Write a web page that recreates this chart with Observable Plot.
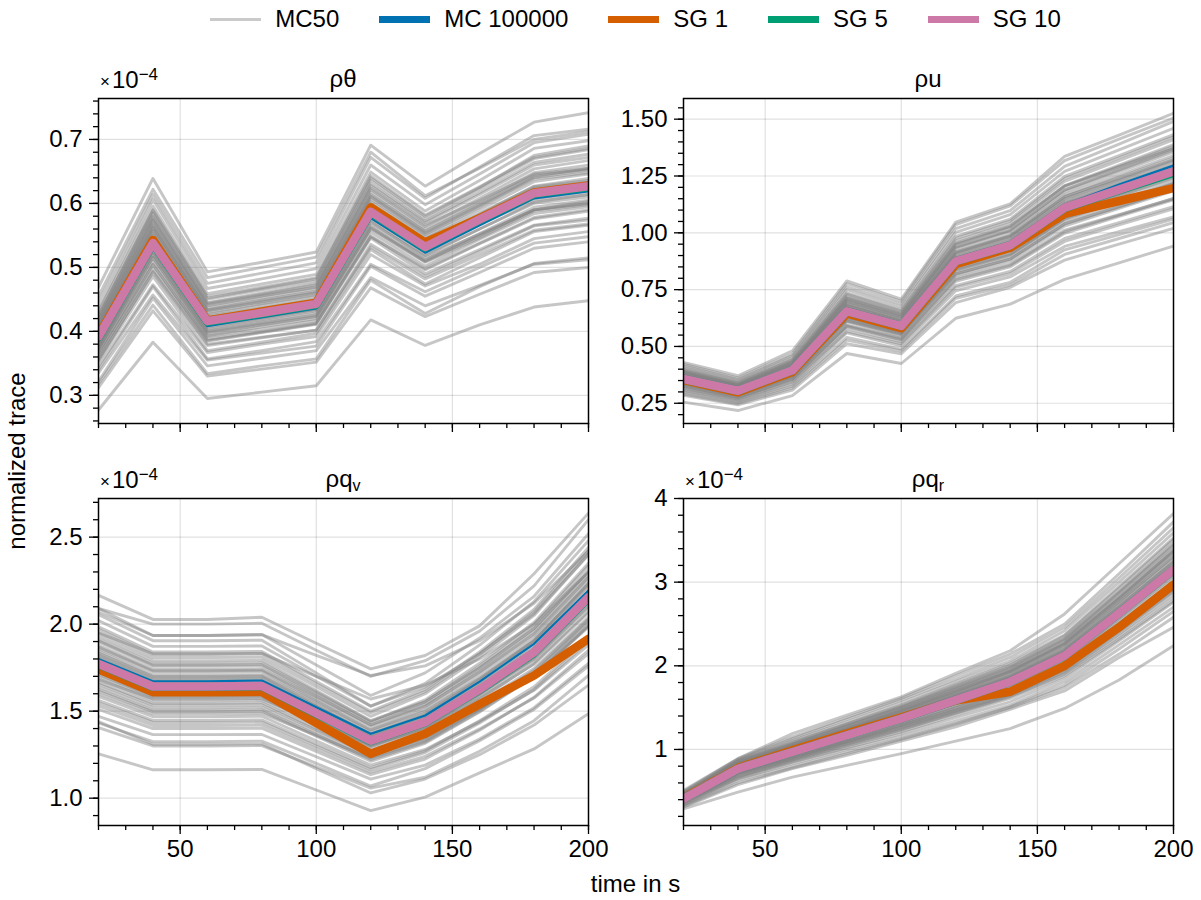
<!DOCTYPE html>
<html><head><meta charset="utf-8">
<script src="https://cdn.jsdelivr.net/npm/d3@7"></script>
<script src="https://cdn.jsdelivr.net/npm/@observablehq/plot@0.6"></script>
<style>
body{margin:0;background:#fff;font-family:"Liberation Sans",Arial,Helvetica,sans-serif;color:#000;}
#root{position:relative;width:1201px;height:900px;overflow:hidden;background:#fff;}
.t{position:absolute;font-size:24px;line-height:1;white-space:nowrap;}
.ctr{transform:translate(-50%,-50%);}
.mult{position:absolute;font-size:24px;line-height:1;white-space:nowrap;transform:translateY(-50%);}
.mult .x{font-size:17px;vertical-align:1px;margin-right:2px;}
.mult sup{font-size:17px;vertical-align:8px;line-height:0;}
.title sub{font-size:16px;vertical-align:-4px;line-height:0;}
#legend{position:absolute;left:98px;width:1075px;top:19px;transform:translateY(-50%);display:flex;justify-content:center;align-items:center;font-size:24px;line-height:1;}
#legend .item{display:flex;align-items:center;margin:0 20px;}
#legend .sw{width:51px;margin-right:14px;}
</style></head><body><div id="root"></div>
<script>
// ---------- data ----------
const times = [20, 40, 60, 80, 100, 120, 140, 160, 180, 200];
const xMajorTicks = [50, 100, 150, 200];
const xMinorTicks = [20, 30, 40, 50, 60, 70, 80, 90, 100, 110, 120, 130, 140, 150, 160, 170, 180, 190, 200];
const seriesNames = ["MC50", "MC 100000", "SG 1", "SG 5", "SG 10"];
const seriesColors = ["#808080", "#0072B2", "#D55E00", "#009E73", "#CC79A7"];

// ρθ (×1e-4)
const rhoThetaMC50 = [
[0.277,0.383,0.295,0.305,0.315,0.418,0.378,0.410,0.438,0.448],
[0.312,0.432,0.330,0.341,0.352,0.468,0.423,0.458,0.492,0.500],
[0.318,0.441,0.334,0.346,0.357,0.480,0.428,0.470,0.506,0.515],
[0.322,0.452,0.346,0.358,0.370,0.484,0.440,0.472,0.505,0.512],
[0.335,0.457,0.355,0.366,0.377,0.502,0.455,0.492,0.530,0.540],
[0.340,0.470,0.357,0.370,0.384,0.505,0.462,0.500,0.538,0.548],
[0.345,0.473,0.367,0.380,0.392,0.520,0.471,0.505,0.545,0.556],
[0.352,0.486,0.370,0.383,0.397,0.528,0.474,0.515,0.556,0.566],
[0.354,0.494,0.380,0.391,0.402,0.536,0.486,0.525,0.565,0.574],
[0.357,0.492,0.378,0.390,0.402,0.532,0.482,0.520,0.558,0.568],
[0.360,0.504,0.388,0.400,0.413,0.549,0.496,0.537,0.576,0.588],
[0.363,0.498,0.385,0.398,0.411,0.546,0.490,0.528,0.566,0.577],
[0.366,0.510,0.392,0.404,0.417,0.555,0.502,0.544,0.584,0.595],
[0.368,0.505,0.386,0.399,0.412,0.548,0.498,0.538,0.578,0.590],
[0.373,0.515,0.393,0.407,0.420,0.560,0.508,0.546,0.588,0.598],
[0.372,0.516,0.396,0.410,0.423,0.561,0.509,0.549,0.590,0.603],
[0.374,0.520,0.398,0.411,0.424,0.563,0.510,0.550,0.590,0.600],
[0.376,0.521,0.400,0.413,0.426,0.566,0.512,0.553,0.594,0.605],
[0.378,0.525,0.404,0.418,0.432,0.570,0.518,0.560,0.602,0.614],
[0.380,0.526,0.401,0.415,0.429,0.572,0.515,0.552,0.590,0.600],
[0.383,0.530,0.406,0.420,0.434,0.575,0.520,0.560,0.600,0.610],
[0.384,0.532,0.409,0.422,0.435,0.578,0.524,0.566,0.608,0.619],
[0.386,0.534,0.412,0.426,0.440,0.582,0.528,0.570,0.612,0.622],
[0.388,0.537,0.410,0.424,0.438,0.583,0.530,0.572,0.614,0.625],
[0.388,0.538,0.413,0.427,0.441,0.590,0.536,0.579,0.622,0.633],
[0.393,0.544,0.418,0.431,0.445,0.585,0.530,0.568,0.605,0.614],
[0.395,0.547,0.420,0.434,0.448,0.595,0.540,0.583,0.627,0.639],
[0.397,0.550,0.422,0.436,0.450,0.596,0.541,0.582,0.624,0.634],
[0.400,0.553,0.424,0.437,0.451,0.600,0.545,0.585,0.626,0.636],
[0.402,0.556,0.427,0.441,0.455,0.603,0.548,0.590,0.634,0.646],
[0.404,0.558,0.429,0.443,0.457,0.607,0.551,0.594,0.640,0.652],
[0.405,0.563,0.433,0.447,0.461,0.612,0.555,0.598,0.642,0.655],
[0.407,0.562,0.432,0.446,0.460,0.610,0.553,0.596,0.638,0.648],
[0.409,0.566,0.434,0.449,0.463,0.614,0.557,0.600,0.644,0.653],
[0.411,0.569,0.437,0.452,0.466,0.618,0.560,0.603,0.648,0.660],
[0.413,0.572,0.440,0.455,0.469,0.622,0.564,0.608,0.654,0.667],
[0.415,0.575,0.442,0.456,0.470,0.624,0.566,0.605,0.646,0.655],
[0.417,0.578,0.444,0.458,0.473,0.628,0.570,0.614,0.660,0.672],
[0.419,0.580,0.445,0.460,0.475,0.631,0.572,0.617,0.664,0.677],
[0.422,0.585,0.450,0.465,0.479,0.636,0.576,0.622,0.670,0.684],
[0.424,0.588,0.452,0.467,0.482,0.640,0.580,0.625,0.675,0.690],
[0.426,0.590,0.455,0.469,0.484,0.643,0.582,0.626,0.672,0.686],
[0.431,0.596,0.459,0.474,0.489,0.649,0.588,0.636,0.686,0.698],
[0.436,0.606,0.467,0.482,0.498,0.660,0.598,0.646,0.695,0.708],
[0.446,0.614,0.475,0.491,0.507,0.672,0.608,0.657,0.706,0.716],
[0.455,0.622,0.484,0.500,0.516,0.680,0.612,0.655,0.700,0.712],
[0.469,0.639,0.493,0.508,0.524,0.691,0.627,0.678,0.727,0.742]
];
const rhoThetaMC100000 = [0.385,0.530,0.408,0.422,0.436,0.577,0.523,0.566,0.608,0.619];
const rhoThetaSG1  = [0.394,0.543,0.417,0.431,0.445,0.594,0.539,0.577,0.617,0.628];
const rhoThetaSG5  = [0.391,0.537,0.415,0.428,0.442,0.586,0.531,0.574,0.615,0.626];
const rhoThetaSG10 = [0.392,0.538,0.416,0.429,0.443,0.587,0.532,0.575,0.616,0.627];
const rhoThetaTicks = [0.3, 0.4, 0.5, 0.6, 0.7];

// ρu
const rhoUMC50 = [
[0.255,0.218,0.284,0.469,0.425,0.624,0.686,0.795,0.868,0.942],
[0.285,0.243,0.308,0.512,0.468,0.693,0.760,0.880,0.950,1.020],
[0.291,0.248,0.318,0.528,0.480,0.712,0.770,0.905,0.975,1.045],
[0.297,0.254,0.326,0.540,0.488,0.722,0.782,0.925,0.992,1.060],
[0.305,0.260,0.334,0.560,0.503,0.745,0.806,0.940,1.005,1.070],
[0.308,0.265,0.343,0.566,0.512,0.760,0.820,0.962,1.035,1.105],
[0.316,0.269,0.347,0.579,0.520,0.768,0.830,0.975,1.045,1.115],
[0.319,0.274,0.355,0.588,0.529,0.786,0.850,0.998,1.072,1.145],
[0.323,0.276,0.357,0.592,0.532,0.794,0.857,1.005,1.078,1.152],
[0.326,0.277,0.360,0.594,0.536,0.800,0.862,1.012,1.080,1.150],
[0.331,0.283,0.366,0.608,0.545,0.812,0.876,1.030,1.108,1.185],
[0.333,0.285,0.369,0.612,0.551,0.818,0.884,1.038,1.114,1.190],
[0.335,0.288,0.372,0.614,0.556,0.820,0.885,1.040,1.115,1.190],
[0.338,0.289,0.373,0.620,0.558,0.828,0.894,1.050,1.126,1.204],
[0.340,0.291,0.376,0.624,0.560,0.835,0.902,1.060,1.138,1.215],
[0.342,0.292,0.378,0.628,0.565,0.840,0.907,1.066,1.145,1.224],
[0.344,0.292,0.380,0.630,0.567,0.842,0.906,1.062,1.140,1.218],
[0.347,0.297,0.382,0.637,0.573,0.850,0.920,1.082,1.162,1.242],
[0.349,0.297,0.385,0.640,0.576,0.862,0.932,1.095,1.175,1.255],
[0.350,0.299,0.387,0.642,0.578,0.858,0.928,1.090,1.170,1.250],
[0.351,0.300,0.388,0.644,0.579,0.856,0.924,1.085,1.160,1.236],
[0.354,0.303,0.392,0.650,0.585,0.869,0.940,1.104,1.185,1.265],
[0.355,0.303,0.393,0.652,0.587,0.870,0.940,1.102,1.180,1.260],
[0.358,0.306,0.396,0.657,0.591,0.873,0.942,1.105,1.182,1.258],
[0.360,0.308,0.398,0.661,0.595,0.884,0.955,1.122,1.205,1.288],
[0.362,0.306,0.398,0.660,0.593,0.880,0.950,1.118,1.196,1.276],
[0.362,0.309,0.400,0.664,0.597,0.886,0.958,1.126,1.208,1.292],
[0.364,0.311,0.403,0.668,0.601,0.892,0.964,1.134,1.216,1.298],
[0.365,0.312,0.402,0.670,0.601,0.890,0.960,1.128,1.205,1.284],
[0.367,0.313,0.404,0.672,0.604,0.896,0.968,1.138,1.220,1.302],
[0.369,0.315,0.408,0.676,0.609,0.904,0.977,1.148,1.232,1.318],
[0.371,0.316,0.409,0.680,0.612,0.908,0.980,1.150,1.232,1.314],
[0.372,0.318,0.410,0.683,0.613,0.912,0.985,1.158,1.245,1.330],
[0.374,0.320,0.414,0.687,0.618,0.918,0.992,1.168,1.254,1.340],
[0.376,0.321,0.416,0.690,0.621,0.916,0.988,1.160,1.240,1.322],
[0.379,0.324,0.420,0.697,0.627,0.931,1.005,1.180,1.268,1.356],
[0.381,0.326,0.422,0.700,0.630,0.935,1.010,1.188,1.276,1.364],
[0.383,0.327,0.424,0.703,0.632,0.938,1.012,1.190,1.280,1.370],
[0.386,0.330,0.428,0.709,0.638,0.948,1.024,1.204,1.292,1.380],
[0.388,0.331,0.430,0.712,0.641,0.950,1.027,1.208,1.298,1.388],
[0.390,0.333,0.432,0.716,0.644,0.955,1.030,1.206,1.290,1.372],
[0.394,0.337,0.436,0.723,0.650,0.965,1.042,1.226,1.318,1.410],
[0.397,0.340,0.440,0.730,0.656,0.975,1.052,1.238,1.330,1.422],
[0.401,0.343,0.444,0.736,0.662,0.984,1.060,1.248,1.340,1.432],
[0.408,0.349,0.452,0.750,0.674,1.002,1.080,1.270,1.365,1.460],
[0.415,0.355,0.460,0.762,0.686,1.018,1.098,1.292,1.390,1.490],
[0.422,0.362,0.468,0.776,0.698,1.036,1.118,1.318,1.412,1.505],
[0.430,0.371,0.481,0.788,0.708,1.047,1.127,1.336,1.430,1.526]
];
const rhoUMC100000 = [0.358,0.306,0.396,0.656,0.591,0.877,0.948,1.122,1.212,1.296];
const rhoUSG1  = [0.352,0.298,0.388,0.645,0.580,0.862,0.934,1.083,1.140,1.197];
const rhoUSG5  = [0.357,0.305,0.395,0.655,0.590,0.875,0.945,1.109,1.187,1.264];
const rhoUSG10 = [0.357,0.305,0.395,0.655,0.590,0.875,0.945,1.110,1.190,1.270];
const rhoUTicks = [0.25, 0.5, 0.75, 1.0, 1.25, 1.5];

// ρq_v (×1e-4)
const rhoQvMC50 = [
[1.255,1.163,1.163,1.165,1.047,0.929,1.006,1.145,1.283,1.485],
[1.405,1.300,1.300,1.302,1.180,1.058,1.120,1.270,1.445,1.705],
[1.440,1.310,1.310,1.312,1.170,1.030,1.110,1.250,1.420,1.650],
[1.432,1.325,1.325,1.328,1.200,1.070,1.170,1.330,1.510,1.760],
[1.470,1.365,1.365,1.366,1.238,1.110,1.190,1.340,1.520,1.775],
[1.510,1.400,1.400,1.402,1.268,1.135,1.225,1.390,1.580,1.850],
[1.530,1.418,1.418,1.420,1.285,1.150,1.240,1.398,1.575,1.830],
[1.548,1.435,1.435,1.437,1.300,1.165,1.262,1.432,1.625,1.900],
[1.562,1.447,1.447,1.450,1.312,1.175,1.272,1.445,1.640,1.920],
[1.585,1.468,1.468,1.471,1.330,1.190,1.280,1.440,1.620,1.880],
[1.600,1.485,1.485,1.487,1.360,1.230,1.330,1.510,1.720,2.010],
[1.615,1.497,1.497,1.500,1.356,1.212,1.315,1.495,1.700,1.990],
[1.625,1.505,1.505,1.508,1.365,1.222,1.322,1.500,1.702,1.992],
[1.640,1.520,1.520,1.522,1.378,1.233,1.335,1.515,1.720,2.020],
[1.655,1.535,1.535,1.537,1.392,1.248,1.350,1.530,1.735,2.030],
[1.665,1.545,1.545,1.548,1.400,1.250,1.345,1.512,1.700,1.985],
[1.680,1.570,1.570,1.572,1.440,1.305,1.410,1.600,1.820,2.140],
[1.685,1.560,1.560,1.562,1.418,1.272,1.380,1.565,1.775,2.075],
[1.700,1.578,1.578,1.580,1.428,1.275,1.372,1.548,1.745,2.040],
[1.710,1.585,1.585,1.588,1.438,1.290,1.395,1.582,1.795,2.100],
[1.720,1.592,1.592,1.595,1.446,1.296,1.405,1.595,1.810,2.120],
[1.738,1.610,1.610,1.612,1.458,1.303,1.400,1.575,1.770,2.065],
[1.745,1.618,1.618,1.620,1.465,1.312,1.418,1.608,1.820,2.130],
[1.755,1.626,1.626,1.628,1.475,1.322,1.432,1.625,1.840,2.160],
[1.760,1.630,1.630,1.632,1.480,1.330,1.420,1.600,1.800,2.100],
[1.768,1.640,1.640,1.642,1.488,1.335,1.442,1.632,1.848,2.165],
[1.775,1.645,1.645,1.647,1.490,1.335,1.445,1.640,1.855,2.180],
[1.790,1.660,1.660,1.662,1.500,1.340,1.440,1.625,1.830,2.130],
[1.800,1.668,1.668,1.670,1.512,1.355,1.465,1.660,1.880,2.205],
[1.808,1.675,1.675,1.678,1.520,1.362,1.475,1.672,1.895,2.225],
[1.818,1.685,1.685,1.688,1.528,1.370,1.482,1.680,1.905,2.235],
[1.825,1.692,1.692,1.695,1.530,1.365,1.470,1.655,1.865,2.180],
[1.835,1.700,1.700,1.703,1.540,1.378,1.490,1.690,1.915,2.250],
[1.845,1.708,1.708,1.710,1.552,1.392,1.510,1.710,1.935,2.270],
[1.860,1.725,1.725,1.728,1.560,1.392,1.500,1.690,1.905,2.230],
[1.868,1.732,1.732,1.735,1.572,1.410,1.525,1.728,1.958,2.290],
[1.878,1.740,1.740,1.742,1.582,1.422,1.540,1.745,1.975,2.310],
[1.898,1.758,1.758,1.760,1.590,1.420,1.530,1.725,1.945,2.270],
[1.905,1.765,1.765,1.768,1.600,1.435,1.552,1.760,1.995,2.335],
[1.915,1.775,1.775,1.778,1.610,1.442,1.565,1.775,2.010,2.350],
[1.932,1.790,1.790,1.792,1.618,1.445,1.555,1.750,1.975,2.300],
[1.950,1.808,1.808,1.810,1.640,1.470,1.600,1.810,2.050,2.400],
[1.950,1.830,1.830,1.832,1.700,1.570,1.650,1.800,2.000,2.300],
[1.970,1.825,1.825,1.828,1.658,1.490,1.612,1.828,2.070,2.420],
[1.985,1.840,1.840,1.843,1.670,1.500,1.625,1.840,2.085,2.440],
[2.020,1.872,1.872,1.875,1.700,1.528,1.660,1.880,2.130,2.480],
[2.055,1.905,1.905,1.908,1.720,1.530,1.640,1.830,2.060,2.400],
[2.070,1.935,1.935,1.940,1.820,1.705,1.760,1.905,2.120,2.420],
[2.090,1.935,1.935,1.940,1.765,1.590,1.720,1.920,2.160,2.520],
[2.090,2.000,2.000,2.005,1.850,1.700,1.790,1.960,2.220,2.600],
[2.165,2.027,2.027,2.040,1.890,1.743,1.820,1.990,2.290,2.638]
];
const rhoQvMC100000 = [1.800,1.672,1.672,1.676,1.523,1.370,1.475,1.670,1.887,2.193];
const rhoQvSG1  = [1.740,1.609,1.609,1.610,1.432,1.255,1.370,1.540,1.705,1.916];
const rhoQvSG5  = [1.770,1.640,1.640,1.643,1.486,1.328,1.435,1.622,1.835,2.150];
const rhoQvSG10 = [1.772,1.642,1.642,1.645,1.488,1.330,1.437,1.625,1.839,2.155];
const rhoQvTicks = [1.0, 1.5, 2.0, 2.5];

// ρq_r (×1e-4)
const rhoQrMC50 = [
[0.29,0.49,0.67,0.81,0.95,1.10,1.25,1.49,1.83,2.24],
[0.31,0.58,0.77,0.93,1.10,1.27,1.48,1.70,2.10,2.46],
[0.32,0.60,0.78,0.95,1.12,1.30,1.50,1.74,2.14,2.58],
[0.33,0.63,0.80,0.97,1.13,1.31,1.51,1.77,2.20,2.65],
[0.34,0.65,0.83,1.00,1.16,1.34,1.53,1.81,2.25,2.70],
[0.35,0.66,0.85,1.02,1.19,1.38,1.57,1.85,2.30,2.76],
[0.36,0.67,0.87,1.05,1.23,1.43,1.63,1.90,2.35,2.82],
[0.36,0.68,0.86,1.04,1.21,1.41,1.61,1.88,2.32,2.78],
[0.37,0.69,0.88,1.06,1.24,1.44,1.64,1.92,2.38,2.86],
[0.37,0.70,0.89,1.08,1.26,1.46,1.66,1.95,2.42,2.90],
[0.38,0.71,0.89,1.07,1.25,1.45,1.65,1.93,2.40,2.89],
[0.38,0.71,0.90,1.09,1.27,1.47,1.67,1.96,2.43,2.92],
[0.38,0.72,0.91,1.09,1.28,1.48,1.69,1.98,2.46,2.95],
[0.39,0.72,0.91,1.10,1.29,1.49,1.70,1.99,2.48,2.97],
[0.39,0.73,0.92,1.10,1.29,1.50,1.71,2.01,2.50,3.00],
[0.39,0.74,0.93,1.12,1.31,1.52,1.74,2.04,2.53,3.04],
[0.40,0.74,0.93,1.12,1.31,1.52,1.73,2.03,2.51,3.01],
[0.40,0.75,0.94,1.14,1.33,1.55,1.76,2.06,2.56,3.07],
[0.40,0.75,0.95,1.14,1.33,1.55,1.77,2.07,2.57,3.09],
[0.40,0.76,0.97,1.17,1.37,1.59,1.80,2.11,2.61,3.13],
[0.41,0.76,0.95,1.15,1.34,1.56,1.78,2.09,2.59,3.10],
[0.41,0.76,0.96,1.16,1.36,1.57,1.79,2.10,2.60,3.12],
[0.41,0.77,0.97,1.17,1.36,1.58,1.80,2.11,2.62,3.15],
[0.42,0.78,0.98,1.18,1.38,1.60,1.82,2.13,2.64,3.16],
[0.42,0.78,0.98,1.18,1.38,1.61,1.83,2.14,2.66,3.19],
[0.42,0.79,0.99,1.19,1.39,1.61,1.84,2.15,2.67,3.19],
[0.42,0.79,0.99,1.19,1.40,1.62,1.85,2.16,2.68,3.21],
[0.43,0.79,1.00,1.21,1.42,1.64,1.87,2.19,2.71,3.25],
[0.43,0.80,1.00,1.20,1.41,1.64,1.86,2.18,2.71,3.24],
[0.43,0.80,1.00,1.21,1.41,1.63,1.86,2.18,2.70,3.24],
[0.43,0.80,1.01,1.22,1.42,1.65,1.88,2.20,2.74,3.28],
[0.44,0.81,1.02,1.23,1.44,1.67,1.90,2.23,2.76,3.31],
[0.44,0.81,1.02,1.23,1.43,1.66,1.89,2.22,2.76,3.30],
[0.44,0.82,1.03,1.24,1.46,1.69,1.93,2.26,2.80,3.36],
[0.44,0.82,1.03,1.24,1.45,1.68,1.92,2.25,2.79,3.34],
[0.45,0.82,1.04,1.25,1.47,1.70,1.94,2.27,2.81,3.37],
[0.45,0.83,1.04,1.25,1.46,1.70,1.93,2.27,2.82,3.38],
[0.45,0.83,1.05,1.26,1.48,1.72,1.95,2.29,2.84,3.40],
[0.46,0.84,1.06,1.28,1.49,1.73,1.97,2.31,2.87,3.43],
[0.46,0.85,1.06,1.28,1.50,1.74,1.98,2.32,2.88,3.45],
[0.46,0.85,1.07,1.29,1.51,1.75,1.99,2.33,2.89,3.47],
[0.47,0.86,1.08,1.30,1.52,1.77,2.01,2.36,2.93,3.51],
[0.47,0.86,1.09,1.31,1.53,1.78,2.03,2.37,2.95,3.53],
[0.48,0.87,1.11,1.33,1.56,1.81,2.06,2.42,3.00,3.59],
[0.49,0.88,1.13,1.36,1.59,1.84,2.10,2.46,3.05,3.65],
[0.50,0.89,1.15,1.38,1.61,1.88,2.14,2.50,3.10,3.72],
[0.51,0.89,1.19,1.41,1.63,1.91,2.18,2.62,3.22,3.82]
];
const rhoQrMC100000 = [0.40,0.76,0.96,1.16,1.36,1.58,1.80,2.12,2.62,3.14];
const rhoQrSG1  = [0.42,0.78,0.99,1.19,1.385,1.585,1.69,2.00,2.46,2.97];
const rhoQrSG5  = [0.41,0.77,0.97,1.17,1.37,1.59,1.81,2.12,2.63,3.15];
const rhoQrSG10 = [0.41,0.77,0.97,1.17,1.37,1.59,1.81,2.12,2.63,3.15];
const rhoQrTicks = [1, 2, 3, 4];

// ---------- layout ----------
const root = document.getElementById("root");
const panels = [
  {mc50: rhoThetaMC50, mc: rhoThetaMC100000, sg1: rhoThetaSG1, sg5: rhoThetaSG5, sg10: rhoThetaSG10,
   ticks: rhoThetaTicks, minor: d3.range(0.26, 0.765, 0.02), domain: [0.256, 0.764], fmt: d3.format(".1f"),
   left: 0, top: 60, fl: 98, fr: 588, ft: 98, fb: 423, xlabels: false, title: "ρθ", mult: true},
  {mc50: rhoUMC50, mc: rhoUMC100000, sg1: rhoUSG1, sg5: rhoUSG5, sg10: rhoUSG10,
   ticks: rhoUTicks, minor: d3.range(0.2, 1.58, 0.05), domain: [0.161, 1.591], fmt: d3.format(".2f"),
   left: 600, top: 60, fl: 683, fr: 1173, ft: 98, fb: 423, xlabels: false, title: "ρu", mult: false},
  {mc50: rhoQvMC50, mc: rhoQvMC100000, sg1: rhoQvSG1, sg5: rhoQvSG5, sg10: rhoQvSG10,
   ticks: rhoQvTicks, minor: d3.range(0.9, 2.71, 0.1), domain: [0.843, 2.722], fmt: d3.format(".1f"),
   left: 0, top: 460, fl: 98, fr: 588, ft: 498, fb: 825, xlabels: true, title: "ρq<sub>v</sub>", mult: true},
  {mc50: rhoQrMC50, mc: rhoQrMC100000, sg1: rhoQrSG1, sg5: rhoQrSG5, sg10: rhoQrSG10,
   ticks: rhoQrTicks, minor: d3.range(0.2, 4.01, 0.2), domain: [0.091, 4.0], fmt: d3.format("d"),
   left: 600, top: 460, fl: 683, fr: 1173, ft: 498, fb: 825, xlabels: true, title: "ρq<sub>r</sub>", mult: true}
];

const asRows = (arr) => arr.map((v, j) => ({t: times[j], v}));

for (const p of panels) {
  const W = 600, H = p.top === 60 ? 400 : 440;
  const gray = p.mc50.flatMap((row, i) => row.map((v, j) => ({t: times[j], v, id: i})));
  const minor = p.minor.map(d => +d.toFixed(3));
  const svg = Plot.plot({
    width: W, height: H,
    marginLeft: p.fl - p.left, marginRight: W - (p.fr - p.left),
    marginTop: p.ft - p.top, marginBottom: H - (p.fb - p.top),
    x: {domain: [20, 200]},
    y: {domain: p.domain},
    style: {fontFamily: "Liberation Sans, Arial, sans-serif", fontSize: "24px", color: "black", background: "transparent", overflow: "visible"},
    marks: [
      Plot.gridX(xMajorTicks.filter(d => d < 200), {stroke: "black", strokeOpacity: 0.12, strokeWidth: 1.2}),
      Plot.gridY(p.ticks, {stroke: "black", strokeOpacity: 0.12, strokeWidth: 1.2}),
      Plot.line(gray, {x: "t", y: "v", z: "id", stroke: seriesColors[0], strokeOpacity: 0.45, strokeWidth: 2.9, clip: true}),
      Plot.line(asRows(p.mc), {x: "t", y: "v", stroke: seriesColors[1], strokeWidth: 2.2, clip: true}),
      Plot.line(asRows(p.sg1), {x: "t", y: "v", stroke: seriesColors[2], strokeWidth: 8.5, clip: true}),
      Plot.line(asRows(p.sg5), {x: "t", y: "v", stroke: seriesColors[3], strokeWidth: 8.5, clip: true}),
      Plot.line(asRows(p.sg10), {x: "t", y: "v", stroke: seriesColors[4], strokeWidth: 8.5, clip: true}),
      Plot.frame({stroke: "black", strokeWidth: 1.5}),
      Plot.axisY(minor, {tickSize: 5, tickFormat: () => "", label: null, strokeWidth: 1.3}),
      Plot.axisY(p.ticks, {tickSize: 9, tickPadding: 7, tickFormat: p.fmt, label: null, fontSize: 24, strokeWidth: 1.3}),
      Plot.axisX(xMinorTicks, {tickSize: 5, tickFormat: () => "", label: null, strokeWidth: 1.3}),
      Plot.axisX(xMajorTicks, {tickSize: 9, tickPadding: 5, tickFormat: p.xlabels ? (d => String(d)) : (() => ""), label: null, fontSize: 24, strokeWidth: 1.3})
    ]
  });
  svg.style.position = "absolute";
  svg.style.left = p.left + "px";
  svg.style.top = p.top + "px";
  root.appendChild(svg);

  const t = document.createElement("div");
  t.className = "t ctr title";
  t.style.left = ((p.fl + p.fr) / 2) + "px";
  t.style.top = (p.ft - 19) + "px";
  t.innerHTML = p.title;
  root.appendChild(t);

  if (p.mult) {
    const m = document.createElement("div");
    m.className = "mult";
    m.style.left = (p.fl + 2) + "px";
    m.style.top = (p.ft - 18) + "px";
    m.innerHTML = '<span class="x">×</span>10<sup>−4</sup>';
    root.appendChild(m);
  }
}

// axis labels
const yl = document.createElement("div");
yl.className = "t";
yl.style.left = "17px"; yl.style.top = "461px";
yl.style.transform = "translate(-50%,-50%) rotate(-90deg)";
yl.textContent = "normalized trace";
root.appendChild(yl);

const xl = document.createElement("div");
xl.className = "t ctr";
xl.style.left = "635.5px"; xl.style.top = "884px";
xl.textContent = "time in s";
root.appendChild(xl);

// legend
const lg = document.createElement("div");
lg.id = "legend";
seriesNames.forEach((name, i) => {
  const it = document.createElement("div");
  it.className = "item";
  const sw = document.createElement("div");
  sw.className = "sw";
  if (i === 0) { sw.style.height = "3px"; sw.style.background = seriesColors[0]; sw.style.opacity = 0.42; }
  else { sw.style.height = "7px"; sw.style.background = seriesColors[i]; }
  const tx = document.createElement("span");
  tx.textContent = name;
  it.appendChild(sw); it.appendChild(tx);
  lg.appendChild(it);
});
root.appendChild(lg);
</script></body></html>
